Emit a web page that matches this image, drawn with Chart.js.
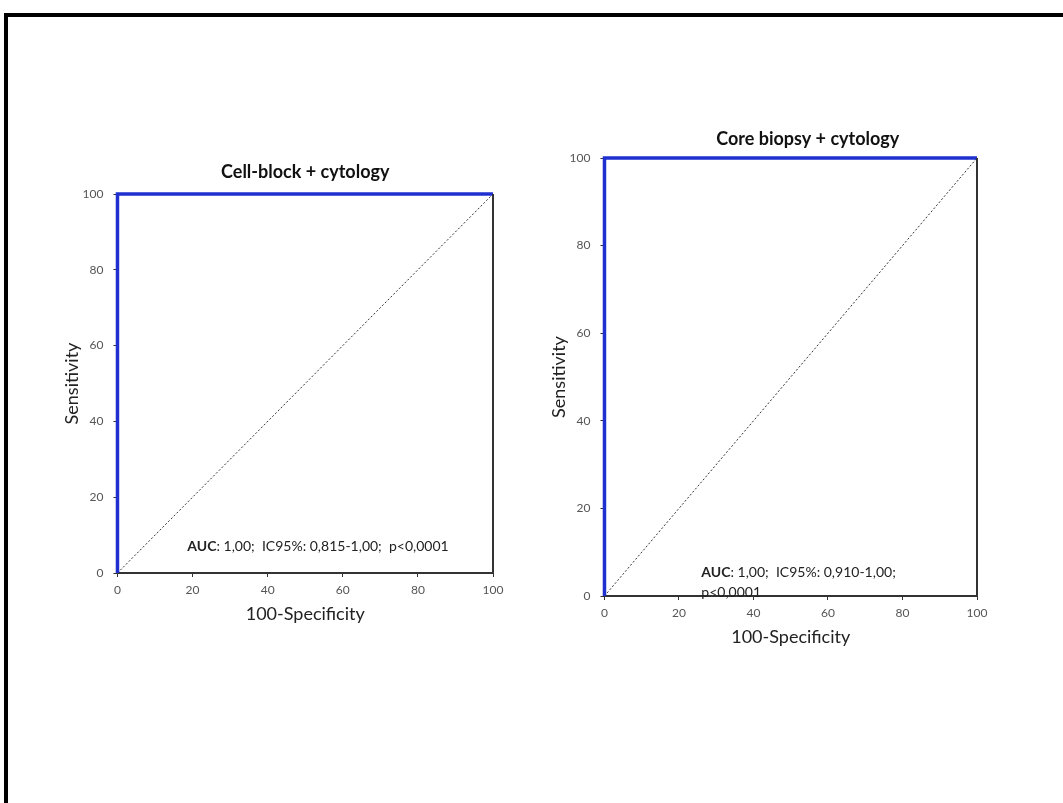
<!DOCTYPE html>
<html>
<head>
<meta charset="utf-8">
<script src="https://cdn.jsdelivr.net/npm/chart.js@4.4.1/dist/chart.umd.min.js"></script>
<style>
  body { margin: 0; background: #fff; width: 1063px; height: 803px; overflow: hidden; position: relative; }
  #frame { position: absolute; left: 4px; top: 13px; width: 1100px; height: 850px; border: 4px solid #000; box-sizing: border-box; }
  .box { position: absolute; }
</style>
</head>
<body>
<div id="frame"></div>
<div class="box" style="left:51px; top:157px; width:470px; height:472px;"><canvas id="left"></canvas></div>
<div class="box" style="left:538px; top:121px; width:470px; height:531px;"><canvas id="right"></canvas></div>
<script>
// ROC data
const rocX = [0, 0, 100];
const rocY = [0, 100, 100];
const refX = [0, 100];
const refY = [0, 100];
const tickStep = 20;

const titles = ["Cell-block + cytology", "Core biopsy + cytology"];
const aucText = [
  ["1,00;  IC95%: 0,815-1,00;  p<0,0001"],
  ["1,00;  IC95%: 0,910-1,00;", "p<0,0001"]
];
const aucPos = [[18.6, 7.1], [26, 5.3]]; // where the note starts, in data units
const rightPad = [28, 31];
// title placement relative to the plot: [shift from centre, gap above]
const titleAt = [[0, 22], [17, 19]];

const FONT = "Lato, 'Open Sans', sans-serif";

function pts(xs, ys) {
  return xs.map((x, i) => ({ x: x, y: ys[i] }));
}

// title, right edge of the plot frame, AUC note
const extras = {
  id: "extras",
  afterDatasetsDraw(chart, args, opts) {
    const { ctx, chartArea, scales } = chart;
    ctx.save();
    ctx.strokeStyle = "#333";
    ctx.lineWidth = 2;
    ctx.beginPath();
    ctx.moveTo(chartArea.right, chartArea.top);
    ctx.lineTo(chartArea.right, chartArea.bottom);
    ctx.stroke();

    ctx.fillStyle = "#111";
    ctx.font = "bold 18px " + FONT;
    ctx.textAlign = "center";
    ctx.textBaseline = "middle";
    ctx.fillText(opts.title, (chartArea.left + chartArea.right) / 2 + opts.titleAt[0], chartArea.top - opts.titleAt[1]);

    const x0 = scales.x.getPixelForValue(opts.pos[0]);
    const y0 = scales.y.getPixelForValue(opts.pos[1]);
    ctx.textAlign = "left";
    ctx.fillStyle = "#222";
    opts.lines.forEach((line, i) => {
      let x = x0;
      if (i === 0) {
        ctx.font = "bold 14px " + FONT;
        ctx.fillText("AUC", x, y0);
        x += ctx.measureText("AUC").width;
        ctx.font = "14px " + FONT;
        ctx.fillText(": " + line, x, y0);
      } else {
        ctx.font = "14px " + FONT;
        ctx.fillText(line, x, y0 + i * 20);
      }
    });
    ctx.restore();
  }
};

function makeChart(id, idx) {
  new Chart(document.getElementById(id), {
    type: "scatter",
    data: {
      datasets: [
        {
          data: pts(refX, refY),
          showLine: true,
          borderColor: "#333",
          borderWidth: 1,
          borderDash: [2, 2],
          pointRadius: 0,
          order: 2
        },
        {
          data: pts(rocX, rocY),
          showLine: true,
          borderColor: "#2030d0",
          borderWidth: 3.5,
          pointRadius: 0,
          clip: 6,
          order: 1
        }
      ]
    },
    options: {
      responsive: true,
      maintainAspectRatio: false,
      animation: false,
      layout: { padding: { left: 0, right: rightPad[idx], top: 37, bottom: 0 } },
      plugins: {
        legend: { display: false },
        tooltip: { enabled: false },
        title: { display: false },
        extras: { lines: aucText[idx], pos: aucPos[idx], title: titles[idx], titleAt: titleAt[idx] }
      },
      scales: {
        x: {
          type: "linear",
          min: 0,
          max: 100,
          ticks: { stepSize: tickStep, color: "#555", font: { family: FONT, size: 12 }, padding: 6 },
          grid: { drawOnChartArea: false, tickLength: 4, color: "#333" },
          border: { color: "#333", width: 2 },
          title: { display: true, text: "100-Specificity", color: "#222", font: { family: FONT, size: 18 }, padding: { top: 0 } }
        },
        y: {
          type: "linear",
          min: 0,
          max: 100,
          ticks: { stepSize: tickStep, color: "#555", font: { family: FONT, size: 12 }, padding: 10 },
          grid: { drawOnChartArea: false, tickLength: 4, color: "#333" },
          border: { color: "#333", width: 2 },
          title: { display: true, text: "Sensitivity", color: "#222", font: { family: FONT, size: 18 }, padding: { top: 10, bottom: -10 } }
        }
      }
    },
    plugins: [extras]
  });
}

makeChart("left", 0);
makeChart("right", 1);
</script>
</body>
</html>
